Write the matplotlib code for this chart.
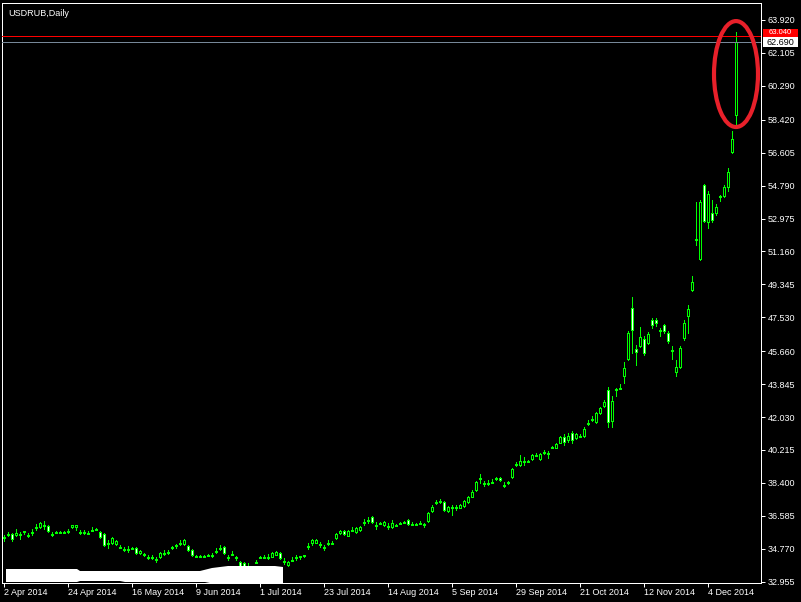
import numpy as np
import pandas as pd
import matplotlib
matplotlib.use('Agg')
from matplotlib import pyplot as plt
from matplotlib import transforms
from matplotlib.patches import Rectangle, Ellipse, Polygon

plt.rcParams['font.family'] = ['Liberation Sans', 'DejaVu Sans']

symbol = 'USDRUB,Daily'
dates = pd.bdate_range('2014-04-02', periods=184)

opens = [
    35.42, 35.53, 35.58, 35.53, 35.53, 35.69, 35.47, 35.64, 35.91, 35.97,
    36.02, 36.02, 35.53, 35.64, 35.64, 35.64, 35.69, 35.97, 35.97, 35.64,
    35.64, 35.58, 35.75, 35.80, 35.69, 35.58, 35.03, 35.09, 35.03, 34.81,
    34.70, 34.70, 34.76, 34.81, 34.54, 34.43, 34.26, 34.26, 34.15, 34.31,
    34.48, 34.54, 34.81, 34.92, 35.03, 35.03, 34.92, 34.70, 34.31, 34.31,
    34.31, 34.37, 34.37, 34.59, 34.76, 34.87, 34.26, 34.43, 34.26, 34.04,
    33.98, 33.76, 33.71, 33.98, 34.26, 34.26, 34.26, 34.31, 34.43, 34.54,
    34.04, 33.87, 34.09, 34.26, 34.31, 34.37, 34.87, 35.09, 35.09, 34.98,
    34.81, 35.03, 35.03, 35.36, 35.64, 35.75, 35.47, 35.75, 35.69, 35.80,
    36.19, 36.30, 36.52, 36.02, 36.13, 36.08, 35.97, 35.97, 36.02, 36.13,
    36.19, 36.35, 36.08, 36.08, 36.13, 36.08, 36.30, 36.85, 37.29, 37.35,
    37.35, 36.85, 37.02, 37.02, 37.02, 37.13, 37.35, 37.62, 38.01, 38.62,
    38.34, 38.34, 38.39, 38.62, 38.67, 38.23, 38.39, 38.73, 39.39, 39.39,
    39.55, 39.55, 39.72, 39.88, 39.72, 40.05, 39.99, 40.32, 40.32, 40.60,
    40.93, 40.77, 41.15, 40.88, 40.93, 40.99, 41.65, 41.87, 41.76, 42.25,
    42.64, 43.52, 41.81, 43.52, 43.58, 44.29, 45.23, 48.04, 45.78, 45.95,
    46.33, 46.11, 47.38, 47.38, 46.77, 47.11, 46.66, 45.67, 44.51, 44.79,
    46.39, 47.60, 49.03, 51.79, 50.74, 54.82, 52.78, 53.28, 53.28, 54.16,
    54.22, 54.71, 56.64, 58.68,
]
highs = [
    35.53, 35.69, 35.64, 35.86, 35.69, 35.75, 35.64, 35.86, 36.13, 36.24,
    36.30, 36.08, 35.69, 35.75, 35.75, 35.75, 35.86, 36.08, 36.08, 35.80,
    35.80, 35.75, 35.97, 35.91, 35.75, 35.64, 35.25, 35.42, 35.25, 34.98,
    34.87, 34.92, 34.87, 34.87, 34.70, 34.54, 34.43, 34.43, 34.31, 34.59,
    34.70, 34.70, 34.92, 35.03, 35.25, 35.31, 34.98, 34.76, 34.43, 34.43,
    34.43, 34.48, 34.54, 34.81, 34.98, 34.92, 34.43, 34.65, 34.37, 34.09,
    34.04, 33.98, 33.82, 34.15, 34.37, 34.43, 34.48, 34.59, 34.65, 34.59,
    34.26, 34.09, 34.31, 34.43, 34.37, 34.43, 35.09, 35.31, 35.31, 35.14,
    34.98, 35.25, 35.20, 35.64, 35.80, 35.80, 35.80, 35.97, 35.97, 36.02,
    36.41, 36.52, 36.58, 36.24, 36.24, 36.30, 36.19, 36.35, 36.13, 36.24,
    36.30, 36.41, 36.24, 36.19, 36.30, 36.19, 36.80, 37.18, 37.46, 37.51,
    37.40, 37.13, 37.18, 37.18, 37.24, 37.46, 37.68, 38.01, 38.50, 38.89,
    38.50, 38.56, 38.62, 38.73, 38.73, 38.45, 38.50, 39.22, 39.55, 39.94,
    39.83, 39.66, 39.99, 40.05, 40.05, 40.21, 40.16, 40.43, 40.60, 40.99,
    41.10, 41.15, 41.26, 41.15, 41.10, 41.48, 41.87, 42.09, 42.31, 42.58,
    42.97, 43.69, 43.19, 43.63, 43.85, 45.07, 46.77, 48.65, 46.00, 46.99,
    46.50, 46.72, 47.49, 47.49, 46.94, 47.16, 46.77, 45.95, 45.18, 45.95,
    47.38, 48.21, 49.81, 53.89, 54.00, 54.88, 54.49, 54.00, 53.78, 54.27,
    54.82, 55.76, 57.80, 63.26,
]
lows = [
    35.20, 35.47, 35.20, 35.47, 35.31, 35.58, 35.42, 35.53, 35.80, 35.91,
    35.86, 35.69, 35.47, 35.64, 35.64, 35.64, 35.64, 35.91, 35.80, 35.58,
    35.58, 35.58, 35.75, 35.80, 35.36, 34.92, 34.81, 35.03, 34.98, 34.81,
    34.65, 34.59, 34.76, 34.48, 34.48, 34.37, 34.20, 34.20, 34.04, 34.26,
    34.43, 34.48, 34.76, 34.81, 34.98, 34.98, 34.65, 34.37, 34.31, 34.31,
    34.31, 34.37, 34.31, 34.54, 34.70, 34.48, 34.15, 34.43, 34.15, 33.71,
    33.71, 33.76, 33.65, 33.98, 34.26, 34.26, 34.20, 34.31, 34.43, 34.20,
    33.93, 33.82, 34.09, 34.15, 34.20, 34.31, 34.76, 34.98, 35.09, 34.87,
    34.70, 34.98, 35.03, 35.31, 35.58, 35.53, 35.47, 35.75, 35.64, 35.75,
    36.08, 36.19, 36.19, 35.86, 36.13, 36.02, 35.86, 35.91, 36.02, 36.13,
    36.19, 36.08, 36.08, 36.08, 36.13, 35.97, 36.24, 36.80, 37.24, 37.29,
    36.85, 36.80, 36.63, 36.91, 37.02, 37.07, 37.29, 37.62, 37.95, 38.39,
    38.23, 38.28, 38.39, 38.56, 38.50, 38.17, 38.34, 38.67, 39.33, 39.33,
    39.39, 39.55, 39.66, 39.88, 39.66, 39.99, 39.77, 40.32, 40.32, 40.60,
    40.49, 40.66, 40.60, 40.82, 40.93, 40.93, 41.59, 41.81, 41.70, 42.20,
    42.58, 41.48, 41.48, 43.19, 43.58, 43.91, 45.18, 45.56, 44.90, 45.89,
    45.45, 46.06, 46.94, 47.05, 46.50, 46.66, 46.11, 45.23, 44.29, 44.73,
    46.28, 46.66, 48.98, 51.52, 50.69, 52.78, 52.45, 52.78, 53.17, 53.94,
    54.16, 54.49, 56.59, 58.13,
]
closes = [
    35.36, 35.58, 35.31, 35.64, 35.58, 35.75, 35.53, 35.69, 35.97, 36.19,
    36.08, 35.75, 35.58, 35.69, 35.69, 35.69, 35.75, 36.08, 36.08, 35.69,
    35.69, 35.64, 35.80, 35.86, 35.42, 34.98, 35.09, 35.36, 35.20, 34.87,
    34.76, 34.76, 34.81, 34.54, 34.65, 34.48, 34.31, 34.31, 34.20, 34.54,
    34.54, 34.59, 34.87, 34.98, 35.09, 35.25, 34.70, 34.43, 34.37, 34.37,
    34.37, 34.43, 34.43, 34.65, 34.81, 34.54, 34.31, 34.48, 34.31, 33.76,
    33.76, 33.82, 33.76, 34.04, 34.31, 34.31, 34.31, 34.54, 34.59, 34.26,
    34.09, 34.04, 34.15, 34.31, 34.37, 34.43, 34.92, 35.25, 35.25, 35.03,
    34.87, 35.09, 35.09, 35.58, 35.75, 35.58, 35.75, 35.80, 35.91, 35.97,
    36.24, 36.35, 36.24, 36.08, 36.19, 36.24, 36.02, 36.19, 36.08, 36.19,
    36.24, 36.13, 36.13, 36.13, 36.19, 36.13, 36.74, 37.07, 37.35, 37.40,
    36.91, 37.07, 37.07, 37.07, 37.18, 37.40, 37.62, 37.90, 38.45, 38.67,
    38.39, 38.39, 38.45, 38.67, 38.56, 38.28, 38.45, 39.17, 39.44, 39.61,
    39.61, 39.61, 39.94, 39.94, 39.99, 40.10, 40.05, 40.38, 40.54, 40.93,
    40.66, 40.99, 40.77, 41.10, 40.99, 41.37, 41.70, 41.92, 42.25, 42.53,
    42.86, 41.76, 42.92, 43.58, 43.63, 44.73, 46.66, 46.83, 45.62, 46.44,
    45.56, 46.61, 47.11, 47.22, 46.83, 46.77, 46.22, 45.73, 44.79, 45.84,
    47.22, 47.99, 49.48, 51.85, 53.89, 52.84, 54.33, 52.89, 53.61, 54.22,
    54.71, 55.54, 57.36, 62.69,
]

price_ticks = [63.920, 62.105, 60.290, 58.420, 56.605, 54.790, 52.975, 51.160,
               49.345, 47.530, 45.660, 43.845, 42.030, 40.215, 38.400, 36.585,
               34.770, 32.955]
date_step = 16
alert_level = 63.04

green = '#00ff00'
px = 0.72            # one pixel in points at 100 dpi
ppx = 0.05513        # price per pixel on the y axis

fig = plt.figure(figsize=(8.01, 6.02), dpi=100, facecolor='black')
ax = fig.add_axes([2 / 801, 19 / 602, 759 / 801, 580 / 602])
ax.set_facecolor('black')

x = np.arange(len(closes))
ax.vlines(x, lows, highs, color=green, lw=px, antialiased=False, zorder=2)
for i, o, c in zip(x, opens, closes):
    fill = 'white' if c < o else 'black'
    ax.add_patch(Rectangle((i - 0.25, min(o, c)), 0.5, abs(c - o),
                           fc=fill, ec=green, lw=px, antialiased=False, zorder=3))

ax.axhline(alert_level, color='#ff0000', lw=px, zorder=4)
ax.axhline(closes[-1], color='#778899', lw=px, zorder=4)

ax.add_patch(Ellipse((x[-1], 60.94), 11, 5.84, fill=False, ec='#e8202a',
                     lw=3.0, clip_on=False, zorder=6))

ax.set_xlim(-0.5, 189.25)
ax.set_ylim(32.881, 64.857)

for s in ax.spines.values():
    s.set_color('white')
    s.set_linewidth(px)

ax.yaxis.tick_right()
ax.set_yticks(price_ticks)
ax.set_yticklabels(['%.3f' % v for v in price_ticks])
ax.tick_params(axis='y', colors='white', length=4 * px, width=px, pad=2,
               labelsize=6.5)

ticks = x[::date_step]
ax.set_xticks(ticks)
ax.set_xticklabels([f'{d.day} {d:%b %Y}' for d in dates[::date_step]])
ax.tick_params(axis='x', colors='white', length=4 * px, width=px, pad=1,
               labelsize=6.5)
for lab in ax.get_xticklabels():
    lab.set_ha('left')

# price tags on the right axis: alert tag sits partly behind the bid tag
bt = transforms.blended_transform_factory(ax.transAxes, ax.transData)
tag_x = 1 + 2 / 759
tag_w = 35 / 759
ax.add_patch(Rectangle((tag_x, alert_level - 1 * ppx), tag_w, 8 * ppx,
                       transform=bt, fc='#ff0000', ec='none', clip_on=False,
                       zorder=7))
ax.text(tag_x + tag_w / 2, alert_level + 3.6 * ppx, '%.3f' % alert_level,
        transform=bt, ha='center', va='center', color='white', fontsize=5.5,
        zorder=8, clip_on=False)
ax.add_patch(Rectangle((tag_x, closes[-1] - 5 * ppx), tag_w, 10.5 * ppx,
                       transform=bt, fc='white', ec='none', clip_on=False,
                       zorder=9))
ax.text(tag_x + tag_w / 2, closes[-1], '%.3f' % closes[-1], transform=bt,
        ha='center', va='center', color='black', fontsize=6.5, zorder=10,
        clip_on=False)

fig.text(8 / 801, 1 - 13 / 602, symbol, ha='left', va='center',
         color='white', fontsize=6.5)

# white patch over the lower-left corner, in image pixels
pix = transforms.Affine2D().scale(1 / 801, -1 / 602).translate(0, 1) + fig.transFigure
blob = [(6, 569), (77, 569), (80, 571), (200, 571), (212, 568), (228, 566),
        (275, 566), (283, 567), (283, 583), (210, 583), (205, 582), (125, 582),
        (120, 581), (80, 581), (77, 582), (6, 582)]
fig.add_artist(Polygon(blob, closed=True, fc='white', ec='none',
                       transform=pix, zorder=10))

fig.savefig('out.png', dpi=100, facecolor='black')
